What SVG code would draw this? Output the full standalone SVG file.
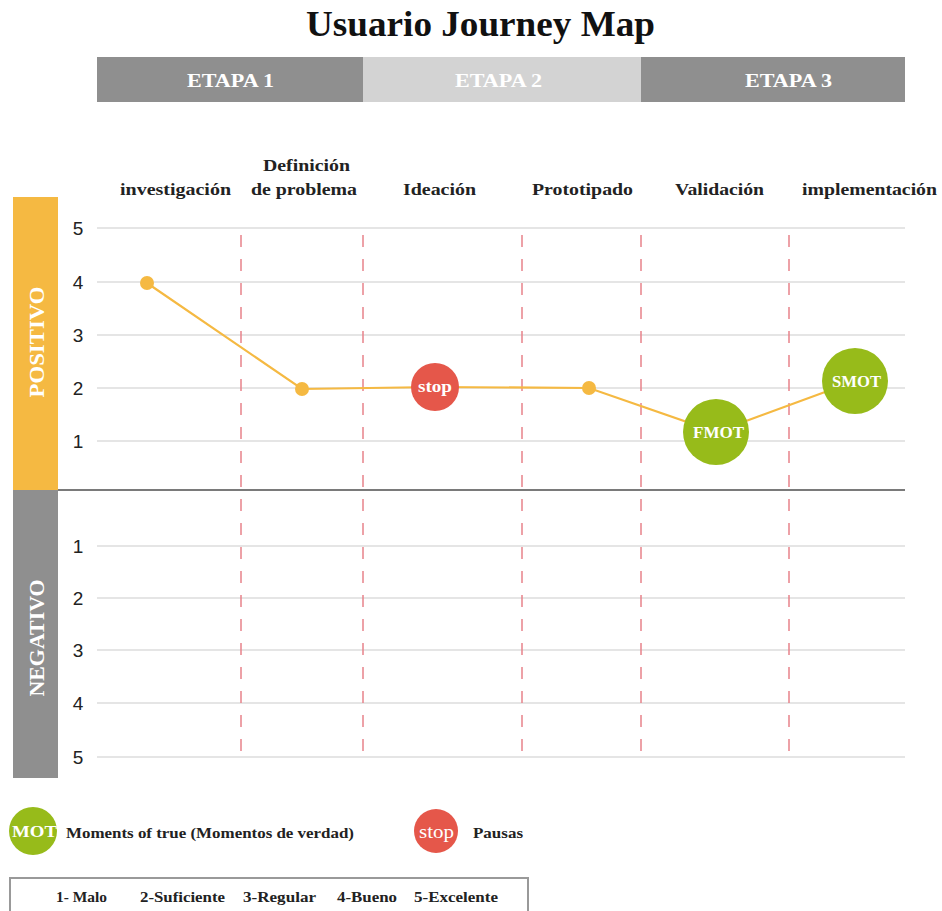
<svg xmlns="http://www.w3.org/2000/svg" width="942" height="911" viewBox="0 0 942 911">
<style>
.serif{font-family:"Liberation Serif","Times New Roman",serif;font-weight:bold}
.title{font-size:35px;fill:#111}
.stage{font-size:18px;fill:#fff}
.col{font-size:17.5px;fill:#222}
.side{font-size:21px;fill:#fff}
.num{font-family:"Liberation Sans",Arial,sans-serif;font-size:19px;fill:#222}
.grid{stroke:#dcdcdc;stroke-width:1.5}
.vdash{stroke:#e8838a;stroke-width:1.5;stroke-dasharray:12 12}
.journey{fill:none;stroke:#f5b942;stroke-width:2.2}
.dot{fill:#f5b942}
.red{fill:#e5574a}
.green{fill:#97bb1a}
.ctext{fill:#fff;font-size:16px}
.leg{font-size:15.5px;fill:#222}
</style>
<rect width="942" height="911" fill="#fff"/>
<text class="serif title" x="306" y="36" textLength="349" lengthAdjust="spacingAndGlyphs">Usuario Journey Map</text>

<g id="stages">
<rect x="97" y="57" width="266" height="45" fill="#8f8f8f"/>
<rect x="363" y="57" width="278" height="45" fill="#d3d3d3"/>
<rect x="641" y="57" width="264" height="45" fill="#8f8f8f"/>
<text class="serif stage" x="187" y="87" textLength="87" lengthAdjust="spacingAndGlyphs">ETAPA 1</text>
<text class="serif stage" x="455" y="87" textLength="87" lengthAdjust="spacingAndGlyphs">ETAPA 2</text>
<text class="serif stage" x="745" y="87" textLength="87" lengthAdjust="spacingAndGlyphs">ETAPA 3</text>
</g>

<g id="columns">
<text class="serif col" x="120" y="195" textLength="111" lengthAdjust="spacingAndGlyphs">investigación</text>
<text class="serif col" x="263" y="171" textLength="87" lengthAdjust="spacingAndGlyphs">Definición</text>
<text class="serif col" x="251" y="195" textLength="106" lengthAdjust="spacingAndGlyphs">de problema</text>
<text class="serif col" x="403" y="195" textLength="73" lengthAdjust="spacingAndGlyphs">Ideación</text>
<text class="serif col" x="532" y="195" textLength="101" lengthAdjust="spacingAndGlyphs">Prototipado</text>
<text class="serif col" x="675" y="195" textLength="89" lengthAdjust="spacingAndGlyphs">Validación</text>
<text class="serif col" x="802" y="195" textLength="135" lengthAdjust="spacingAndGlyphs">implementación</text>
</g>

<g id="sidebars">
<rect x="13" y="197" width="45" height="293" fill="#f5b942"/>
<rect x="13" y="490" width="45" height="288" fill="#8f8f8f"/>
<text class="serif side" transform="translate(44,342) rotate(-90)" text-anchor="middle" textLength="111" lengthAdjust="spacingAndGlyphs">POSITIVO</text>
<text class="serif side" transform="translate(44,638) rotate(-90)" text-anchor="middle" textLength="117" lengthAdjust="spacingAndGlyphs">NEGATIVO</text>
</g>

<g id="grid">
<line class="grid" x1="97" y1="228" x2="905" y2="228"/>
<line class="grid" x1="97" y1="282" x2="905" y2="282"/>
<line class="grid" x1="97" y1="335" x2="905" y2="335"/>
<line class="grid" x1="97" y1="388" x2="905" y2="388"/>
<line class="grid" x1="97" y1="441" x2="905" y2="441"/>
<line class="grid" x1="97" y1="546" x2="905" y2="546"/>
<line class="grid" x1="97" y1="598" x2="905" y2="598"/>
<line class="grid" x1="97" y1="650" x2="905" y2="650"/>
<line class="grid" x1="97" y1="703" x2="905" y2="703"/>
<line class="grid" x1="97" y1="757" x2="905" y2="757"/>
<line x1="58" y1="490" x2="905" y2="490" stroke="#7a7a7a" stroke-width="2"/>
</g>

<g id="numbers" text-anchor="middle">
<text class="num" x="78" y="235">5</text>
<text class="num" x="78" y="289">4</text>
<text class="num" x="78" y="342">3</text>
<text class="num" x="78" y="395">2</text>
<text class="num" x="78" y="448">1</text>
<text class="num" x="78" y="553">1</text>
<text class="num" x="78" y="605">2</text>
<text class="num" x="78" y="657">3</text>
<text class="num" x="78" y="710">4</text>
<text class="num" x="78" y="764">5</text>
</g>

<g id="dividers">
<line class="vdash" x1="241" y1="235" x2="241" y2="760"/>
<line class="vdash" x1="363" y1="235" x2="363" y2="760"/>
<line class="vdash" x1="522" y1="235" x2="522" y2="760"/>
<line class="vdash" x1="641" y1="235" x2="641" y2="760"/>
<line class="vdash" x1="789" y1="235" x2="789" y2="760"/>
</g>

<g id="connectors">
<polyline class="journey" points="147,283 302,389 435,387 589,388 716,432 855,381"/>
</g>

<g id="p-investigacion"><circle class="dot" cx="147" cy="283" r="7"/></g>
<g id="p-definicion"><circle class="dot" cx="302" cy="389" r="7"/></g>
<g id="p-ideacion">
<circle class="red" cx="435" cy="387" r="24"/>
<text class="serif ctext" x="418" y="392" textLength="34" lengthAdjust="spacingAndGlyphs">stop</text>
</g>
<g id="p-prototipado"><circle class="dot" cx="589" cy="388" r="7"/></g>
<g id="p-validacion">
<circle class="green" cx="716" cy="432" r="33"/>
<text class="serif ctext" x="693" y="438" textLength="51" lengthAdjust="spacingAndGlyphs">FMOT</text>
</g>
<g id="p-implementacion">
<circle class="green" cx="855" cy="381" r="33"/>
<text class="serif ctext" x="832" y="387" textLength="49" lengthAdjust="spacingAndGlyphs">SMOT</text>
</g>

<g id="legend">
<circle class="green" cx="33" cy="831" r="24"/>
<text class="serif" x="12" y="837" fill="#fff" font-size="17" textLength="45" lengthAdjust="spacingAndGlyphs">MOT</text>
<text class="serif leg" x="66" y="838" textLength="288" lengthAdjust="spacingAndGlyphs">Moments of true (Momentos de verdad)</text>
<circle class="red" cx="436" cy="831" r="22"/>
<text x="419" y="838" fill="#fff" font-size="19" font-family="Liberation Serif,serif" textLength="35" lengthAdjust="spacingAndGlyphs">stop</text>
<text class="serif leg" x="473" y="838" textLength="50" lengthAdjust="spacingAndGlyphs">Pausas</text>
</g>

<g id="scale">
<rect x="10" y="878" width="518" height="40" fill="none" stroke="#999" stroke-width="2"/>
<text class="serif leg" x="56" y="902" textLength="51" lengthAdjust="spacingAndGlyphs">1- Malo</text>
<text class="serif leg" x="140" y="902" textLength="85" lengthAdjust="spacingAndGlyphs">2-Suficiente</text>
<text class="serif leg" x="243" y="902" textLength="73" lengthAdjust="spacingAndGlyphs">3-Regular</text>
<text class="serif leg" x="337" y="902" textLength="60" lengthAdjust="spacingAndGlyphs">4-Bueno</text>
<text class="serif leg" x="414" y="902" textLength="84" lengthAdjust="spacingAndGlyphs">5-Excelente</text>
</g>
</svg>
